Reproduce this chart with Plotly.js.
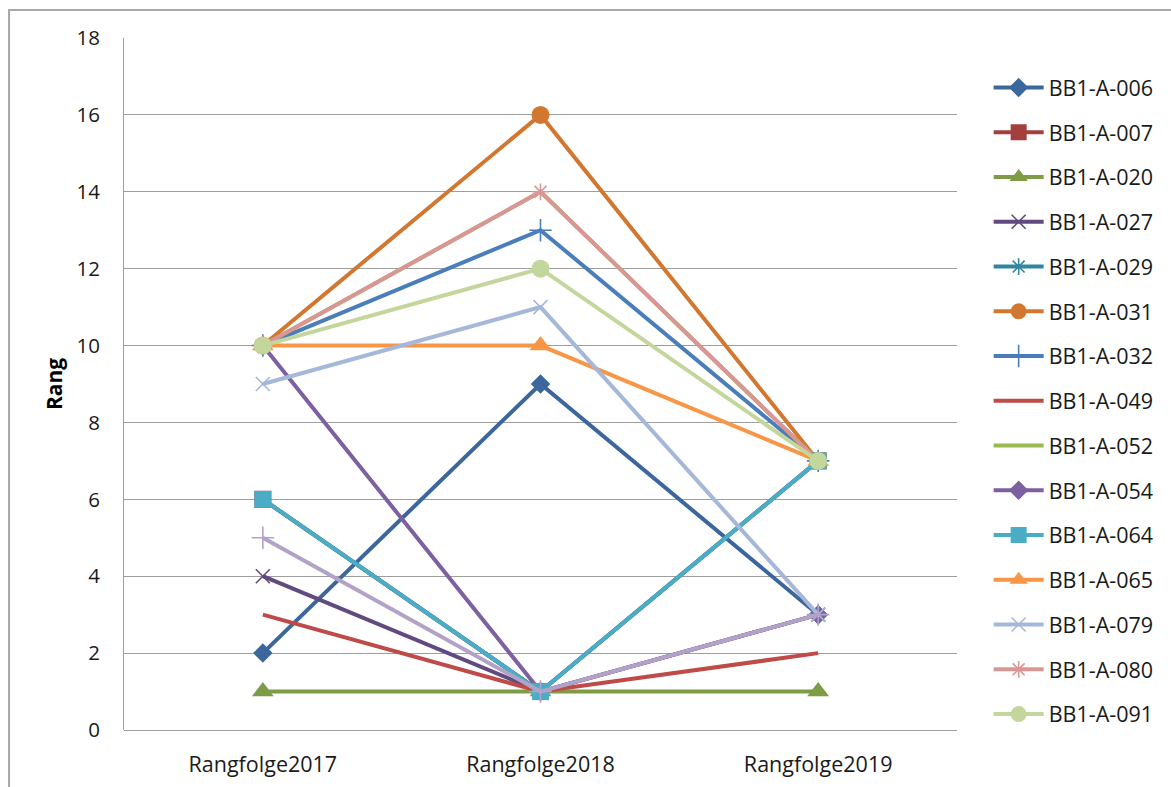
<!DOCTYPE html>
<html>
<head>
<meta charset="utf-8">
<script src="https://cdn.plot.ly/plotly-3.0.1.min.js"></script>
<style>
  html, body { margin: 0; padding: 0; background: #ffffff; }
  #chart { width: 1171px; height: 787px; }
</style>
</head>
<body>
<div id="chart"></div>
<script>
// Rank of each item in the three yearly rankings
const years = ["Rangfolge2017", "Rangfolge2018", "Rangfolge2019"];

const names = [
  "BB1-A-006", "BB1-A-007", "BB1-A-020", "BB1-A-027", "BB1-A-029",
  "BB1-A-031", "BB1-A-032", "BB1-A-049", "BB1-A-052", "BB1-A-054",
  "BB1-A-064", "BB1-A-065", "BB1-A-079", "BB1-A-080", "BB1-A-091",
  "BB1-A-Serie16"
];

const bb006 = [2, 9, 3];
const bb007 = [6, 1, 7];
const bb020 = [1, 1, 1];
const bb027 = [4, 1, 3];
const bb029 = [6, 1, 7];
const bb031 = [10, 16, 7];
const bb032 = [10, 13, 7];
const bb049 = [3, 1, 2];
const bb052 = [10, 14, 7];
const bb054 = [10, 1, 3];
const bb064 = [6, 1, 7];
const bb065 = [10, 10, 7];
const bb079 = [9, 11, 3];
const bb080 = [10, 14, 7];
const bb091 = [10, 12, 7];
const serie16 = [5, 1, 3];

const values = [bb006, bb007, bb020, bb027, bb029, bb031, bb032, bb049,
                bb052, bb054, bb064, bb065, bb079, bb080, bb091, serie16];

const colors = [
  "#3C679C", "#A33F3C", "#7E9C45", "#604A7F", "#31869F",
  "#D2772F", "#4A7EBB", "#BE4B48", "#98B954", "#7D60A0",
  "#4BACC6", "#F79646", "#A6B8D9", "#D99694", "#C3D69B",
  "#B3A2C7"
];

// marker symbol and size per series (null = line only)
const symbols = [
  ["diamond", 15], ["square", 17], ["triangle-up", 19], ["x-thin-open", 14],
  ["asterisk-open", 14], ["circle", 18], ["cross-thin-open", 16], [null, 0],
  [null, 0], ["diamond", 15], ["square", 17], ["triangle-up", 19],
  ["x-thin-open", 14], ["asterisk-open", 14], ["circle", 18],
  ["cross-thin-open", 16]
];

const traces = values.map((ys, i) => {
  const sym = symbols[i][0];
  const t = {
    type: "scatter",
    x: years,
    y: ys,
    name: names[i],
    legendgroup: "g" + i,
    showlegend: i < 15,
    mode: sym ? "lines+markers" : "lines",
    line: { color: colors[i], width: 4 },
    hoverinfo: "name+y"
  };
  if (sym) {
    t.marker = {
      symbol: sym,
      size: symbols[i][1],
      color: colors[i],
      line: { color: colors[i], width: sym.indexOf("thin") >= 0 || sym.indexOf("asterisk") >= 0 ? 1.6 : 0 }
    };
  }
  return t;
});

const fontFam = "'Open Sans', 'Liberation Sans', sans-serif";

const layout = {
  width: 1171,
  height: 787,
  paper_bgcolor: "#ffffff",
  plot_bgcolor: "#ffffff",
  margin: { l: 124, r: 211, t: 38, b: 57 },
  font: { family: fontFam, size: 19, color: "#1a1a1a" },
  showlegend: true,
  xaxis: {
    type: "category",
    range: [-0.5, 2.5],
    showgrid: false,
    showline: false,
    zeroline: false,
    ticks: "",
    ticklabelstandoff: 19,
    tickfont: { family: fontFam, size: 21.5, color: "#1a1a1a" },
    fixedrange: true
  },
  yaxis: {
    range: [0, 18],
    dtick: 2,
    tick0: 0,
    showgrid: true,
    gridcolor: "#9e9e9e",
    gridwidth: 1,
    showline: true,
    linecolor: "#9e9e9e",
    linewidth: 1,
    zeroline: true,
    zerolinecolor: "#9e9e9e",
    zerolinewidth: 1,
    ticks: "",
    ticklabelstandoff: 19,
    tickfont: { family: fontFam, size: 20.5, color: "#1a1a1a" },
    title: {
      text: "<b>Rang</b>",
      font: { family: fontFam, size: 21, color: "#000000" },
      standoff: 8
    },
    fixedrange: true
  },
  legend: {
    x: 1.038,
    xanchor: "left",
    y: 0.958,
    yanchor: "top",
    traceorder: "grouped",
    tracegroupgap: 13.8,
    itemwidth: 50,
    bgcolor: "rgba(0,0,0,0)",
    font: { family: fontFam, size: 21.5, color: "#1a1a1a" }
  },
  shapes: [
    {
      type: "rect",
      xref: "paper", yref: "paper",
      x0: -0.138, x1: 1.27,
      y0: -0.12, y1: 1.0405,
      line: { color: "#a8a8a8", width: 2 },
      fillcolor: "rgba(0,0,0,0)",
      layer: "below"
    }
  ]
};

Plotly.newPlot("chart", traces, layout, { displayModeBar: false, staticPlot: true });
</script>
</body>
</html>
